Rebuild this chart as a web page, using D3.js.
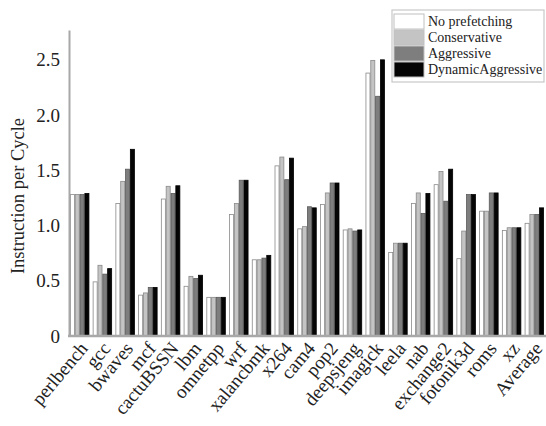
<!DOCTYPE html>
<html>
<head>
<meta charset="utf-8">
<script src="https://cdn.jsdelivr.net/npm/d3@7"></script>
<style>
  body { margin: 0; background: #fff; }
  text { font-family: "Liberation Serif", "DejaVu Serif", serif; fill: #222; }
</style>
</head>
<body>
<div id="chart"></div>
<script>
// benchmarks on the x axis
const benchmarks = ["perlbench", "gcc", "bwaves", "mcf", "cactuBSSN", "lbm", "omnetpp", "wrf",
    "xalancbmk", "x264", "cam4", "pop2", "deepsjeng", "imagick", "leela", "nab",
    "exchange2", "fotonik3d", "roms", "xz", "Average"];

const seriesNames = ["No prefetching", "Conservative", "Aggressive", "DynamicAggressive"];

// IPC values
const noPrefetching = [1.28, 0.49, 1.20, 0.37, 1.24, 0.45, 0.35, 1.10, 0.69, 1.54, 0.97, 1.19, 0.96, 2.38, 0.755, 1.20, 1.37, 0.70, 1.13, 0.955, 1.02];
const conservative  = [1.28, 0.64, 1.40, 0.39, 1.355, 0.54, 0.35, 1.20, 0.69, 1.62, 0.99, 1.295, 0.97, 2.495, 0.84, 1.295, 1.49, 0.95, 1.13, 0.98, 1.10];
const aggressive    = [1.28, 0.56, 1.51, 0.44, 1.29, 0.52, 0.35, 1.41, 0.705, 1.415, 1.17, 1.385, 0.95, 2.17, 0.84, 1.11, 1.22, 1.28, 1.295, 0.98, 1.10];
const dynamicAggr   = [1.29, 0.61, 1.69, 0.44, 1.36, 0.55, 0.35, 1.41, 0.73, 1.61, 1.16, 1.385, 0.96, 2.50, 0.84, 1.29, 1.51, 1.28, 1.295, 0.98, 1.16];

const yTicks = [0, 0.5, 1.0, 1.5, 2.0, 2.5];
const yTickLabels = ["0", "0.5", "1.0", "1.5", "2.0", "2.5"];

const fills = ["#ffffff", "#c4c4c4", "#7e7e7e", "#050505"];
const strokes = ["#8a8a8a", "#8a8a8a", "#5a5a5a", "#000000"];

const width = 546, height = 426;
const svg = d3.select("#chart").append("svg")
    .attr("width", width)
    .attr("height", height);

// scales
const x0 = d3.scaleBand()
    .domain(benchmarks)
    .range([70, 544])
    .paddingInner(0.15)
    .paddingOuter(0);

const x1 = d3.scaleBand()
    .domain(seriesNames)
    .range([0, x0.bandwidth()]);

const y = d3.scaleLinear()
    .domain([0, 2.77])
    .range([336, 30]);

const allSeries = [noPrefetching, conservative, aggressive, dynamicAggr];
const rows = benchmarks.map((b, i) => ({
    name: b,
    values: seriesNames.map((s, j) => ({series: s, idx: j, value: allSeries[j][i]}))
}));

// bars
const groups = svg.selectAll(".group")
    .data(rows)
    .enter()
    .append("g")
    .attr("class", "group")
    .attr("transform", d => `translate(${x0(d.name)},0)`);

groups.selectAll("rect")
    .data(d => d.values)
    .enter()
    .append("rect")
    .attr("x", d => x1(d.series) + 0.4)
    .attr("y", d => y(d.value))
    .attr("width", x1.bandwidth() - 0.8)
    .attr("height", d => y(0) - y(d.value))
    .attr("fill", d => fills[d.idx])
    .attr("stroke", d => strokes[d.idx])
    .attr("stroke-width", 0.8);

// axes
const yAxis = d3.axisLeft(y)
    .tickValues(yTicks)
    .tickFormat((d, i) => yTickLabels[i])
    .tickSize(0)
    .tickPadding(9);

const yAxisGroup = svg.append("g")
    .attr("transform", "translate(69,0)")
    .call(yAxis);
yAxisGroup.select(".domain").attr("stroke", "#a8a8a8").attr("stroke-width", 2);
yAxisGroup.selectAll("text")
    .style("font-size", "19px")
    .style("font-family", "'Liberation Serif', serif")
    .attr("fill", "#222");

const xAxis = d3.axisBottom(x0).tickSize(0).tickFormat("");
const xAxisGroup = svg.append("g")
    .attr("transform", "translate(0,336)")
    .call(xAxis);
xAxisGroup.select(".domain")
    .attr("d", "M68,0H546")
    .attr("stroke", "#a8a8a8")
    .attr("stroke-width", 2.5);

// rotated benchmark labels
svg.selectAll(".xlabel")
    .data(benchmarks)
    .enter()
    .append("text")
    .attr("class", "xlabel")
    .attr("text-anchor", "end")
    .style("font-size", "19px")
    .attr("transform", d => `translate(${x0(d) + x0.bandwidth() / 2 + 9},349) rotate(-50)`)
    .text(d => d);

// y label
svg.append("text")
    .attr("text-anchor", "middle")
    .style("font-size", "18.5px")
    .attr("transform", "translate(24,196) rotate(-90)")
    .text("Instruction per Cycle");

// legend
const legend = svg.append("g").attr("transform", "translate(392,10)");
legend.append("rect")
    .attr("width", 152)
    .attr("height", 72)
    .attr("fill", "#fff")
    .attr("stroke", "#c8c8c8")
    .attr("stroke-width", 1.2);

const items = legend.selectAll(".item")
    .data(seriesNames)
    .enter()
    .append("g")
    .attr("transform", (d, i) => `translate(2,${4 + i * 16})`);

items.append("rect")
    .attr("width", 30)
    .attr("height", 15)
    .attr("fill", (d, i) => fills[i])
    .attr("stroke", "#c0c0c0")
    .attr("stroke-width", 1);

items.append("text")
    .attr("x", 34)
    .attr("y", 12)
    .style("font-size", "14px")
    .text(d => d);
</script>
</body>
</html>
